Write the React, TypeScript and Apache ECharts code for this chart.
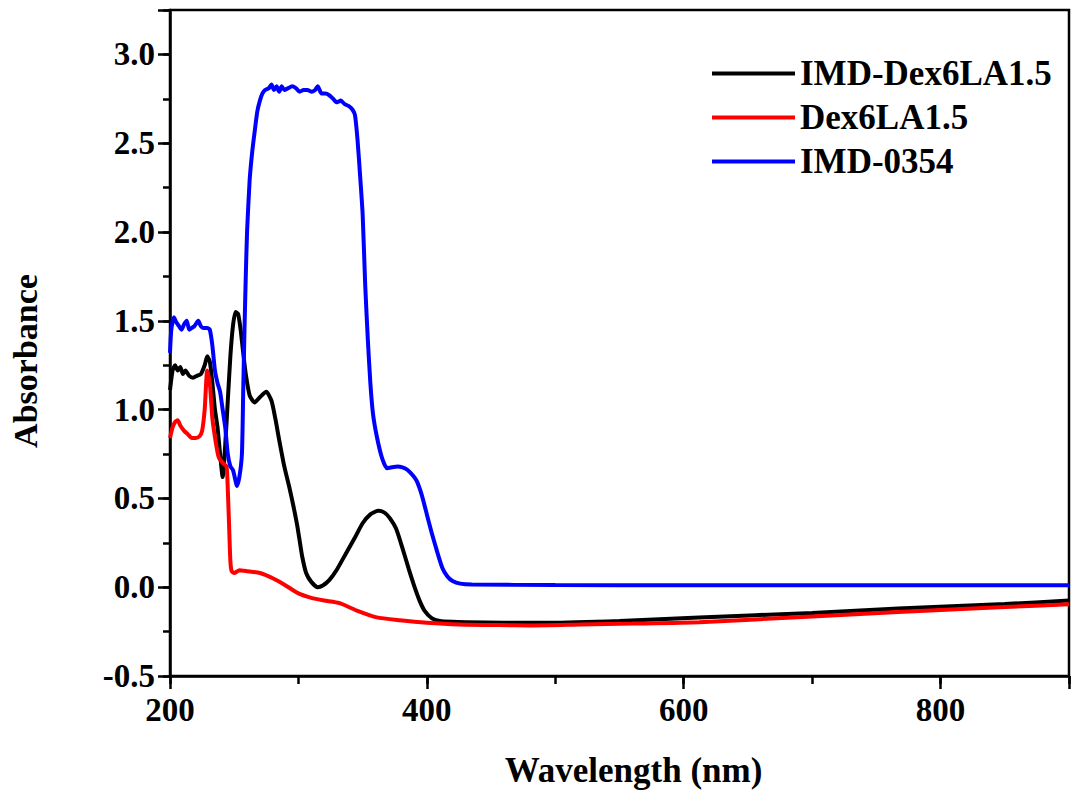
import React, { useEffect, useRef } from "react";
import * as echarts from "echarts";

const seriesNames = ["IMD-Dex6LA1.5", "Dex6LA1.5", "IMD-0354"];
const seriesColors = ["#000000", "#ff0000", "#0000ff"];

const blackWl = [200, 202, 204, 206, 208, 210, 212, 215, 218, 221, 224, 227, 229, 231, 233, 235, 237, 239, 241, 243, 245, 247, 249, 251, 253, 255, 257, 259, 262, 266, 270, 275, 279, 282, 285, 289, 293, 296, 299, 301, 303, 306, 310, 315, 319, 324, 330, 337, 344, 350, 356, 362, 367, 371, 376, 381, 386, 390, 394, 398, 404, 410, 420, 431, 460, 495, 550, 612, 700, 767, 850, 900];
const blackAbs = [1.11, 1.22, 1.25, 1.22, 1.24, 1.2, 1.22, 1.19, 1.18, 1.19, 1.2, 1.25, 1.3, 1.27, 1.15, 1.0, 0.9, 0.75, 0.62, 0.8, 1.05, 1.3, 1.47, 1.55, 1.54, 1.45, 1.32, 1.2, 1.08, 1.04, 1.07, 1.1, 1.05, 0.95, 0.83, 0.68, 0.56, 0.46, 0.35, 0.26, 0.17, 0.08, 0.03, 0.0, 0.01, 0.04, 0.1, 0.19, 0.28, 0.36, 0.41, 0.43, 0.42, 0.39, 0.33, 0.22, 0.1, 0.01, -0.07, -0.13, -0.175, -0.19, -0.195, -0.197, -0.2, -0.2, -0.19, -0.17, -0.145, -0.12, -0.095, -0.075];

const redWl = [200, 202, 204, 206, 208, 211, 214, 217, 220, 223, 225, 227, 229, 231, 233, 236, 238, 241, 244, 245, 246, 247, 248, 250, 254, 260, 270, 280, 290, 300, 310, 320, 332, 345, 361, 379, 400, 425, 456, 480, 520, 560, 612, 700, 767, 850, 900];
const redAbs = [0.84, 0.9, 0.93, 0.94, 0.91, 0.88, 0.86, 0.84, 0.84, 0.85, 0.88, 1.0, 1.22, 1.15, 0.95, 0.8, 0.73, 0.7, 0.68, 0.55, 0.35, 0.15, 0.09, 0.08, 0.095, 0.09, 0.08, 0.05, 0.01, -0.035, -0.06, -0.075, -0.09, -0.13, -0.17, -0.186, -0.2, -0.21, -0.213, -0.215, -0.21, -0.205, -0.197, -0.165, -0.14, -0.112, -0.096];

const blueWl = [200, 201, 203, 205, 207, 209, 211, 213, 215, 217, 219, 222, 224, 226, 229, 231, 233, 235, 237, 239, 241, 243, 245, 247, 249, 251, 252, 254, 256, 257, 258, 259, 260, 262, 264, 266, 268, 270, 272, 274, 277, 279, 281, 283, 285, 287, 289, 292, 295, 298, 301, 304, 307, 310, 313, 315, 318, 321, 324, 327, 330, 333, 336, 339, 342, 344, 346, 348, 350, 352, 354, 356, 358, 361, 365, 369, 373, 377, 381, 385, 389, 392, 396, 400, 404, 408, 412, 416, 420, 426, 435, 500, 600, 700, 800, 900];
const blueAbs = [1.32, 1.45, 1.52, 1.49, 1.47, 1.45, 1.48, 1.5, 1.45, 1.46, 1.47, 1.5, 1.47, 1.46, 1.46, 1.45, 1.36, 1.22, 1.15, 1.1, 1.0, 0.9, 0.75, 0.68, 0.66, 0.6, 0.57, 0.62, 0.75, 1.1, 1.45, 1.75, 2.0, 2.29, 2.45, 2.57, 2.68, 2.74, 2.78, 2.8, 2.81, 2.83, 2.8, 2.82, 2.79, 2.82, 2.8, 2.81, 2.82, 2.81, 2.79, 2.8, 2.8, 2.79, 2.8, 2.82, 2.78, 2.78, 2.77, 2.75, 2.73, 2.74, 2.72, 2.71, 2.69, 2.66, 2.52, 2.32, 2.1, 1.7, 1.4, 1.15, 0.98, 0.85, 0.73, 0.67, 0.675, 0.68, 0.675, 0.66, 0.63, 0.6, 0.52, 0.41, 0.3, 0.2, 0.11, 0.06, 0.035, 0.02, 0.015, 0.012, 0.011, 0.011, 0.011, 0.011];

const xLabels = ["200", "400", "600", "800"];
const yLabels = ["-0.5", "0.0", "0.5", "1.0", "1.5", "2.0", "2.5", "3.0"];

const FONT = '"Liberation Serif", "Times New Roman", serif';

function pairs(xs: number[], ys: number[]) {
  return xs.map((x, i) => [x, ys[i]]);
}

export default function App() {
  const ref = useRef<HTMLDivElement>(null);
  useEffect(() => {
    document.body.style.margin = "0";
    if (!ref.current) return;
    const chart = echarts.init(ref.current, null, { renderer: "svg" });
    const grid = { left: 170, top: 10, right: 2, bottom: 118, show: true, borderColor: "#000", borderWidth: 2.5, backgroundColor: "#fff" };
    const axisLine = { show: true, onZero: false, lineStyle: { color: "#000", width: 2.5 } };
    const option = {
      animation: false,
      backgroundColor: "#fff",
      grid,
      legend: {
        orient: "vertical",
        left: 707,
        top: 51,
        icon: "rect",
        itemWidth: 83,
        itemHeight: 4,
        itemGap: 9,
        data: seriesNames,
        textStyle: { fontFamily: FONT, fontWeight: "bold", fontSize: 35, color: "#000", lineHeight: 35 },
      },
      xAxis: [
        {
          type: "value",
          min: 200,
          max: 900,
          interval: 200,
          position: "bottom",
          axisLine,
          splitLine: { show: false },
          axisTick: { show: true, inside: false, length: 13, lineStyle: { color: "#000", width: 2.5 } },
          axisLabel: {
            margin: 17,
            fontFamily: FONT,
            fontWeight: "bold",
            fontSize: 33,
            color: "#000",
            formatter: (v: number) => (xLabels.includes(String(v)) ? String(v) : ""),
          },
          name: "Wavelength (nm)",
          nameLocation: "middle",
          nameGap: 77,
          nameTextStyle: { fontFamily: FONT, fontWeight: "bold", fontSize: 35, color: "#000", padding: [0, 0, 0, 28] },
        },
        {
          type: "value",
          min: 200,
          max: 900,
          interval: 100,
          position: "bottom",
          axisLine: { show: false, onZero: false },
          splitLine: { show: false },
          axisTick: { show: true, inside: false, length: 8, lineStyle: { color: "#000", width: 2.5 } },
          axisLabel: { show: false },
        },
      ],
      yAxis: [
        {
          type: "value",
          min: -0.5,
          max: 3.25,
          interval: 0.5,
          position: "left",
          axisLine,
          splitLine: { show: false },
          axisTick: { show: true, inside: false, length: 12, lineStyle: { color: "#000", width: 2.5 } },
          axisLabel: {
            margin: 15,
            fontFamily: FONT,
            fontWeight: "bold",
            fontSize: 33,
            color: "#000",
            formatter: (v: number) => {
              const s = v.toFixed(1);
              return yLabels.includes(s) && Math.abs(v - Number(s)) < 1e-6 ? s : "";
            },
          },
          name: "Absorbance",
          nameLocation: "middle",
          nameGap: 128,
          nameRotate: 90,
          nameTextStyle: { fontFamily: FONT, fontWeight: "bold", fontSize: 34, color: "#000", padding: [0, 36, 0, 0] },
        },
        {
          type: "value",
          min: -0.5,
          max: 3.25,
          interval: 0.25,
          position: "left",
          axisLine: { show: false, onZero: false },
          splitLine: { show: false },
          axisTick: { show: true, inside: false, length: 7, lineStyle: { color: "#000", width: 2.5 } },
          axisLabel: { show: false },
        },
      ],
      series: [
        { name: seriesNames[0], data: pairs(blackWl, blackAbs), color: seriesColors[0] },
        { name: seriesNames[1], data: pairs(redWl, redAbs), color: seriesColors[1] },
        { name: seriesNames[2], data: pairs(blueWl, blueAbs), color: seriesColors[2] },
      ].map((s) => ({
        type: "line",
        name: s.name,
        data: s.data,
        xAxisIndex: 0,
        yAxisIndex: 0,
        symbol: "none",
        showSymbol: false,
        smooth: 0.2,
        itemStyle: { color: s.color },
        lineStyle: { color: s.color, width: 4 },
      })),
    };
    chart.setOption(option as any);
    return () => chart.dispose();
  }, []);
  return <div ref={ref} style={{ width: 1072, height: 794 }} />;
}
